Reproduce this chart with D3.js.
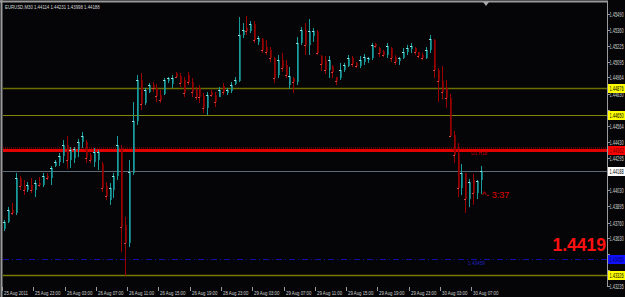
<!DOCTYPE html>
<html>
<head>
  <title>EURUSD,M30</title>
  <script src="https://d3js.org/d3.v7.min.js"></script>
  <style>
    body { margin: 0; background: #000; overflow: hidden; }
    svg { display: block; }
    text { font-family: "Liberation Sans", Arial, sans-serif; }
  </style>
</head>
<body>
  <script>
    var width = 625,
        height = 297;

    // header: symbol and O H L C of the last bar
    var symbol = "EURUSD,M30";
    var headerOHLC = ["1.44114", "1.44231", "1.43998", "1.44188"];

    // 30 minute bars, 25 Aug 19:00 .. 30 Aug 08:00
    var opens = [1.43708, 1.43766, 1.43865, 1.43840, 1.44130, 1.44064, 1.44031, 1.44072, 1.44031, 1.44089,
      1.44072, 1.44147, 1.44130, 1.44230, 1.44263, 1.44313, 1.44404, 1.44280, 1.44296, 1.44362,
      1.44429, 1.44429, 1.44321, 1.44263, 1.44280, 1.44246, 1.44064, 1.43948, 1.44031, 1.44147,
      1.44379, 1.43741, 1.43592, 1.44172, 1.44603, 1.44943, 1.44752, 1.44843, 1.44901, 1.44877,
      1.44818, 1.44827, 1.44935, 1.44910, 1.45001, 1.44976, 1.44943, 1.44984, 1.44926, 1.44860,
      1.44877, 1.44810, 1.44711, 1.44843, 1.44818, 1.44802, 1.44893, 1.44835, 1.44852, 1.44910,
      1.44935, 1.45316, 1.45374, 1.45349, 1.45407, 1.45258, 1.45283, 1.45216, 1.45192, 1.45125,
      1.44984, 1.45109, 1.45067, 1.44901, 1.44959, 1.44926, 1.45250, 1.45357, 1.45233, 1.45308,
      1.45341, 1.45142, 1.45109, 1.45026, 1.45059, 1.44968, 1.44959, 1.45026, 1.45059, 1.45125,
      1.45084, 1.45059, 1.45092, 1.45109, 1.45125, 1.45241, 1.45208, 1.45183, 1.45150, 1.45208,
      1.45134, 1.45100, 1.45125, 1.45175, 1.45200, 1.45208, 1.45175, 1.45150, 1.45125, 1.45192,
      1.45274, 1.45026, 1.44935, 1.44877, 1.44794, 1.44487, 1.44338, 1.44048, 1.44172, 1.43956,
      1.44114, 1.44006, 1.44114];
    var highs = [1.43782, 1.43890, 1.43923, 1.44172, 1.44147, 1.44114, 1.44097, 1.44130, 1.44114, 1.44139,
      1.44172, 1.44172, 1.44230, 1.44280, 1.44338, 1.44445, 1.44479, 1.44387, 1.44387, 1.44454,
      1.44512, 1.44445, 1.44338, 1.44379, 1.44362, 1.44263, 1.44097, 1.44089, 1.44172, 1.44479,
      1.44404, 1.43807, 1.44280, 1.44760, 1.44984, 1.45001, 1.44877, 1.44918, 1.44926, 1.44910,
      1.44860, 1.44959, 1.44968, 1.44984, 1.45009, 1.45001, 1.44968, 1.45009, 1.44959, 1.44885,
      1.44901, 1.44835, 1.44843, 1.44860, 1.44843, 1.44885, 1.44918, 1.44877, 1.44926, 1.44968,
      1.45465, 1.45415, 1.45473, 1.45432, 1.45432, 1.45308, 1.45291, 1.45274, 1.45216, 1.45134,
      1.45150, 1.45167, 1.45109, 1.45051, 1.44968, 1.45299, 1.45382, 1.45415, 1.45449, 1.45374,
      1.45357, 1.45150, 1.45142, 1.45142, 1.45067, 1.44968, 1.45084, 1.45084, 1.45150, 1.45142,
      1.45092, 1.45142, 1.45158, 1.45134, 1.45250, 1.45250, 1.45216, 1.45192, 1.45250, 1.45216,
      1.45150, 1.45134, 1.45208, 1.45233, 1.45250, 1.45216, 1.45175, 1.45167, 1.45216, 1.45316,
      1.45283, 1.45042, 1.45059, 1.44943, 1.44827, 1.44520, 1.44420, 1.44246, 1.44172, 1.44122,
      1.44164, 1.44114, 1.44231];
    var lows = [1.43691, 1.43757, 1.43824, 1.43824, 1.44031, 1.43989, 1.44014, 1.44006, 1.43973, 1.44056,
      1.44056, 1.44114, 1.44072, 1.44222, 1.44230, 1.44255, 1.44205, 1.44213, 1.44255, 1.44304,
      1.44379, 1.44255, 1.44255, 1.44222, 1.44197, 1.44014, 1.43948, 1.43907, 1.43965, 1.44114,
      1.43517, 1.43320, 1.43558, 1.44155, 1.44570, 1.44694, 1.44736, 1.44835, 1.44843, 1.44760,
      1.44752, 1.44818, 1.44918, 1.44877, 1.44959, 1.44885, 1.44802, 1.44901, 1.44802, 1.44777,
      1.44752, 1.44669, 1.44653, 1.44802, 1.44719, 1.44802, 1.44818, 1.44818, 1.44835, 1.44901,
      1.44926, 1.45291, 1.45316, 1.45332, 1.45250, 1.45233, 1.45167, 1.45150, 1.45092, 1.44918,
      1.44959, 1.45009, 1.44959, 1.44868, 1.44835, 1.44901, 1.45233, 1.45150, 1.45150, 1.45258,
      1.45150, 1.45017, 1.44993, 1.44959, 1.44959, 1.44901, 1.44943, 1.45009, 1.45051, 1.45051,
      1.45042, 1.45042, 1.45067, 1.45084, 1.45109, 1.45208, 1.45134, 1.45134, 1.45125, 1.45092,
      1.45067, 1.45067, 1.45117, 1.45150, 1.45167, 1.45150, 1.45125, 1.45109, 1.45117, 1.45167,
      1.44959, 1.44760, 1.44785, 1.44711, 1.44470, 1.44255, 1.43973, 1.43989, 1.43840, 1.43890,
      1.43907, 1.43956, 1.43998];
    var closes = [1.43766, 1.43865, 1.43840, 1.44130, 1.44064, 1.44031, 1.44072, 1.44031, 1.44089, 1.44072,
      1.44147, 1.44130, 1.44213, 1.44263, 1.44313, 1.44404, 1.44280, 1.44362, 1.44371, 1.44429,
      1.44479, 1.44296, 1.44280, 1.44346, 1.44346, 1.44048, 1.43981, 1.44048, 1.44147, 1.44404,
      1.43724, 1.43592, 1.44180, 1.44603, 1.44943, 1.44744, 1.44860, 1.44901, 1.44877, 1.44810,
      1.44777, 1.44943, 1.44959, 1.44959, 1.44968, 1.44918, 1.44835, 1.44926, 1.44843, 1.44802,
      1.44802, 1.44711, 1.44818, 1.44818, 1.44760, 1.44860, 1.44843, 1.44860, 1.44901, 1.44943,
      1.45316, 1.45357, 1.45349, 1.45407, 1.45274, 1.45291, 1.45192, 1.45175, 1.45125, 1.44959,
      1.45109, 1.45042, 1.44984, 1.44976, 1.44926, 1.45250, 1.45357, 1.45233, 1.45349, 1.45349,
      1.45167, 1.45075, 1.45026, 1.45109, 1.45009, 1.44935, 1.45026, 1.45067, 1.45125, 1.45075,
      1.45059, 1.45109, 1.45134, 1.45125, 1.45233, 1.45225, 1.45167, 1.45150, 1.45225, 1.45125,
      1.45092, 1.45125, 1.45175, 1.45208, 1.45225, 1.45175, 1.45142, 1.45125, 1.45192, 1.45283,
      1.45026, 1.44935, 1.44843, 1.44794, 1.44479, 1.44321, 1.44048, 1.44172, 1.43956, 1.44097,
      1.44006, 1.44106, 1.44188];

    // one time label every 8 bars (4 hours)
    var timeLabels = ["25 Aug 2011", "25 Aug 23:00", "26 Aug 03:00", "26 Aug 07:00", "26 Aug 11:00",
      "26 Aug 15:00", "26 Aug 19:00", "28 Aug 23:00", "29 Aug 03:00", "29 Aug 07:00", "29 Aug 11:00",
      "29 Aug 15:00", "29 Aug 19:00", "29 Aug 23:00", "30 Aug 03:00", "30 Aug 07:00"];
    var barsPerLabel = 8;

    var priceLabels = ["1.45490", "1.45360", "1.45225", "1.45095", "1.44964", "1.44830", "1.44695",
      "1.44564", "1.44430", "1.44295", "1.44165", "1.44030", "1.43895", "1.43760", "1.43630",
      "1.43500", "1.43365", "1.43235"];

    // horizontal levels drawn on the chart
    var levelPrices = [1.44876, 1.44650, 1.44362, 1.44188, 1.43459, 1.43326];
    var levelLabels = ["1.44876", "1.44650", "1.44362", "1.44188", "1.43459", "1.43326"];

    var bigPriceText = "1.4419";
    var timerText = "^- 3:37";
    var pivotText = "D1 H18";
    var blueLevelText = "1.43459";

    // styles for the levels (same order as levelPrices)
    var levelStyle = [
      { stroke: "#6e6e00", w: 1.5, dash: null, box: "#ffff00", ink: "#000" },
      { stroke: "#858510", w: 1, dash: null, box: "#ffff00", ink: "#000" },
      { stroke: "#e00000", w: 3, dash: null, box: "#ff0000", ink: "#600" },
      { stroke: "#5b6b78", w: 1, dash: null, box: "#ffffff", ink: "#000" },
      { stroke: "#1010a8", w: 1, dash: "6,3,1,3", box: "#1010ff", ink: "#000060" },
      { stroke: "#7a7a00", w: 1.5, dash: null, box: "#ffff00", ink: "#000" }
    ];

    var plotLeft = 3, plotRight = 607, plotTop = 3, plotBottom = 286;

    // small text squeezed horizontally, like the terminal's narrow font
    function smallText(parent, tx, ty, size, squeeze, fill, str) {
      return parent.append('text')
        .attr('transform', 'translate(' + tx + ',' + ty + ') scale(' + squeeze + ',1)')
        .attr('font-size', size)
        .attr('fill', fill)
        .text(str);
    }

    var svg = d3.select('body')
      .append('svg')
      .attr('width', width)
      .attr('height', height);

    svg.append('rect')
      .attr('width', width)
      .attr('height', height)
      .attr('fill', '#050507');

    var x = d3.scaleLinear()
      .domain([0, opens.length - 1])
      .range([4, 481]);

    var y = d3.scaleLinear()
      .domain([1.43235, 1.45490])
      .range([286, 14]);

    svg.append('clipPath').attr('id', 'plot')
      .append('rect')
      .attr('x', plotLeft).attr('y', plotTop)
      .attr('width', plotRight - plotLeft).attr('height', plotBottom - plotTop);

    var g = svg.append('g').attr('clip-path', 'url(#plot)');

    // level lines
    levelPrices.forEach(function(p, i) {
      var s = levelStyle[i];
      var ly = Math.round(y(p)) + 0.5;
      g.append('line')
        .attr('x1', plotLeft).attr('x2', plotRight)
        .attr('y1', ly).attr('y2', ly)
        .attr('stroke', s.stroke)
        .attr('stroke-width', s.w)
        .attr('stroke-dasharray', s.dash);
      if (i === 2) {
        // dotted companion line just above the red level
        g.append('line')
          .attr('x1', plotLeft).attr('x2', plotRight)
          .attr('y1', ly - 2.5).attr('y2', ly - 2.5)
          .attr('stroke', '#b00000')
          .attr('stroke-width', 1)
          .attr('stroke-dasharray', '1,1');
      }
    });

    // bars
    var idx = d3.range(opens.length);
    var bull = '#199c9c', bear = '#9a0000';

    var bars = g.selectAll('g.bar')
      .data(idx)
      .enter()
      .append('g')
      .attr('class', 'bar');

    bars.append('line')
      .attr('x1', function(i) { return Math.round(x(i)) + 0.5; })
      .attr('x2', function(i) { return Math.round(x(i)) + 0.5; })
      .attr('y1', function(i) { return y(highs[i]); })
      .attr('y2', function(i) { return y(lows[i]); })
      .attr('stroke', function(i) { return closes[i] >= opens[i] ? bull : bear; })
      .attr('stroke-width', 1);

    bars.append('rect')
      .attr('x', function(i) { return Math.round(x(i)); })
      .attr('y', function(i) { return y(Math.max(opens[i], closes[i])); })
      .attr('width', 2)
      .attr('height', function(i) { return Math.max(1, Math.abs(y(opens[i]) - y(closes[i]))); })
      .attr('fill', function(i) { return closes[i] >= opens[i] ? bull : bear; })
      .attr('opacity', 0.75);

    bars.append('line')
      .attr('x1', function(i) { return Math.round(x(i)) - 1; })
      .attr('x2', function(i) { return Math.round(x(i)) + 1; })
      .attr('y1', function(i) { return Math.round(y(closes[i])) + 0.5; })
      .attr('y2', function(i) { return Math.round(y(closes[i])) + 0.5; })
      .attr('stroke', function(i) { return closes[i] >= opens[i] ? '#8fdede' : '#d04040'; })
      .attr('stroke-width', 1);

    // texts on the chart
    smallText(g, 471, 155, 6, 0.8, '#c00000', pivotText);

    g.append('text')
      .attr('x', 482).attr('y', 198)
      .attr('font-size', 9)
      .attr('fill', '#e00000')
      .text(timerText);

    smallText(g, 468, 265, 5.5, 0.85, '#2020c0', blueLevelText);

    g.append('text')
      .attr('x', 606).attr('y', 251)
      .attr('text-anchor', 'end')
      .attr('font-size', 17.5)
      .attr('font-weight', 'bold')
      .attr('fill', '#ff1010')
      .text(bigPriceText);

    // frame
    svg.append('line')
      .attr('x1', 0).attr('x2', plotRight + 1)
      .attr('y1', 1.5).attr('y2', 1.5)
      .attr('stroke', '#9a9a9a').attr('stroke-width', 2);
    svg.append('line')
      .attr('x1', 1.5).attr('x2', 1.5)
      .attr('y1', 0).attr('y2', height)
      .attr('stroke', '#9a9a9a').attr('stroke-width', 2);
    svg.append('line')
      .attr('x1', plotRight + 0.5).attr('x2', plotRight + 0.5)
      .attr('y1', 1).attr('y2', plotBottom + 1)
      .attr('stroke', '#9a9a9a').attr('stroke-width', 1);

    // shift marker
    svg.append('path')
      .attr('d', 'M483,2L489,2L486,6Z')
      .attr('fill', '#a8a8a8');

    // header
    smallText(svg, 5, 9, 6, 0.72, '#d8d8d8', symbol + "  " + headerOHLC.join(" "));

    // price axis; regular labels hidden where a level box sits on them
    var pa = svg.append('g');
    var boxYs = levelPrices.map(function(p) { return Math.round(y(p)); });
    priceLabels.forEach(function(t) {
      var py = Math.round(y(+t)) + 0.5;
      pa.append('line')
        .attr('x1', plotRight).attr('x2', plotRight + 3)
        .attr('y1', py).attr('y2', py)
        .attr('stroke', '#9a9a9a');
      var covered = boxYs.some(function(b) { return Math.abs(b - py) < 6; });
      if (covered) return;
      smallText(pa, 609.5, py + 2.5, 6.5, 0.6, '#d0d0d0', t);
    });

    levelPrices.forEach(function(p, i) {
      var s = levelStyle[i];
      var py = Math.round(y(p));
      pa.append('rect')
        .attr('x', plotRight + 1).attr('y', py - 4)
        .attr('width', 18).attr('height', 9)
        .attr('fill', s.box);
      smallText(pa, 609.5, py + 3, 6.5, 0.6, s.ink, levelLabels[i]);
    });

    // time axis
    var ta = svg.append('g');
    timeLabels.forEach(function(t, k) {
      var tx = Math.round(x(k * barsPerLabel));
      ta.append('line')
        .attr('x1', tx - 1.5).attr('x2', tx - 1.5)
        .attr('y1', plotBottom + 1).attr('y2', plotBottom + 5)
        .attr('stroke', '#9a9a9a');
      smallText(ta, tx, 295, 6, 0.72, '#d0d0d0', t);
    });
  </script>
</body>
</html>
